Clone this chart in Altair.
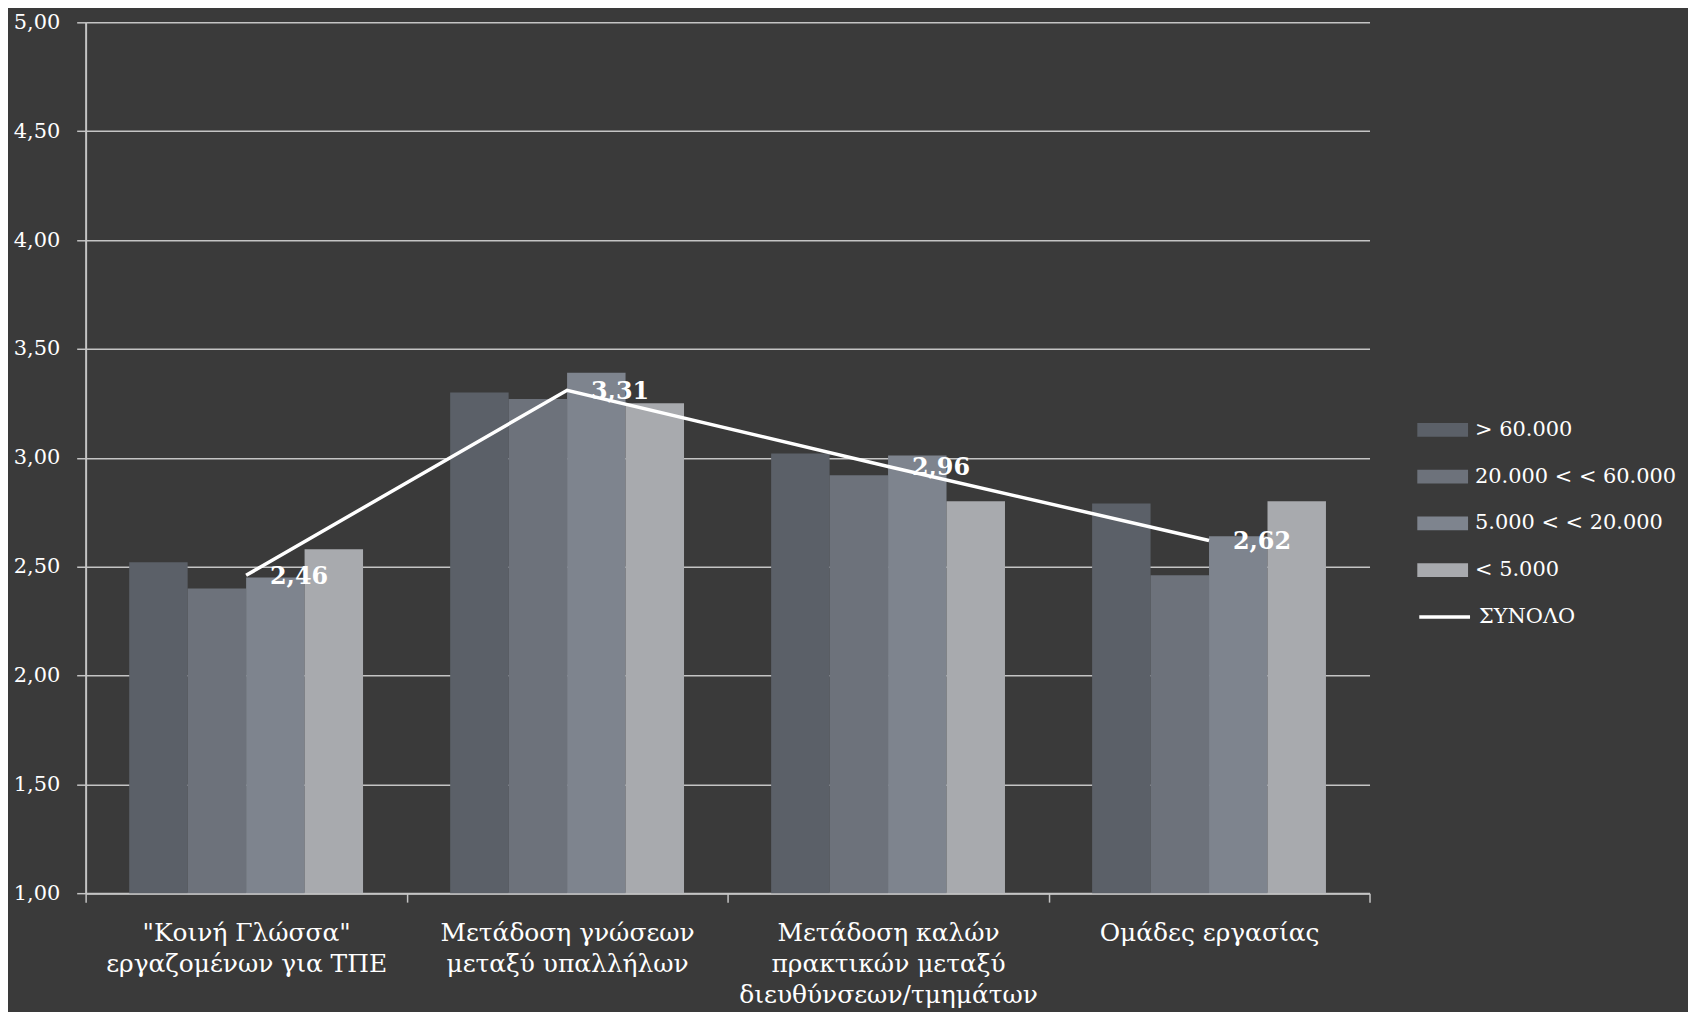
import altair as alt
import pandas as pd

categories = [
    '"Κοινή Γλώσσα"\nεργαζομένων για ΤΠΕ',
    'Μετάδοση γνώσεων\nμεταξύ υπαλλήλων',
    'Μετάδοση καλών\nπρακτικών μεταξύ\nδιευθύνσεων/τμημάτων',
    'Ομάδες εργασίας',
]
series = ['> 60.000', '20.000 < < 60.000', '5.000 < < 20.000', '< 5.000']
s_gt60 = [2.52, 3.30, 3.02, 2.79]
s_20_60 = [2.40, 3.27, 2.92, 2.46]
s_5_20 = [2.45, 3.39, 3.01, 2.64]
s_lt5 = [2.58, 3.25, 2.80, 2.80]
total_name = 'ΣΥΝΟΛΟ'
total = [2.46, 3.31, 2.96, 2.62]
y_ticks = [1.0, 1.5, 2.0, 2.5, 3.0, 3.5, 4.0, 4.5, 5.0]

bar_colors = ['#5b6068', '#6d727b', '#7e848e', '#a8aaae']
FONT = 'DejaVu Serif'
BG = '#3a3a3a'
GRID = '#c4c4c4'

rows = []
for s, vals in zip(series, [s_gt60, s_20_60, s_5_20, s_lt5]):
    for c, v in zip(categories, vals):
        rows.append({'cat': c, 'series': s, 'value': v})
bars_df = pd.DataFrame(rows)
line_df = pd.DataFrame({'cat': categories, 'value': total, 'name': [total_name] * 4})

x_enc = alt.X(
    'cat:N', sort=categories, title=None,
    scale=alt.Scale(paddingInner=0, paddingOuter=0),
    axis=alt.Axis(
        labelAngle=0, tickBand='extent', labelExpr="split(datum.label, '\\n')",
        labelFont=FONT, labelFontSize=25, labelColor='#ffffff', labelLineHeight=31,
        labelPadding=19, labelBaseline='top', tickSize=9, tickColor=GRID, tickWidth=1.5,
        domainColor=GRID, domainWidth=2, grid=False, labelLimit=400,
    ),
)
y_scale = alt.Scale(domain=[1, 5], zero=False, nice=False)
y_axis = alt.Axis(
    values=y_ticks, labelExpr="replace(format(datum.value, '.2f'), '.', ',')",
    labelFont=FONT, labelFontSize=21, labelColor='#ffffff', labelPadding=17,
    tickSize=9, tickColor=GRID, tickWidth=1.5, domainColor=GRID, domainWidth=2,
    grid=True, gridColor=GRID, gridWidth=1.5, title=None,
)

bars = alt.Chart(bars_df).mark_bar().encode(
    x=x_enc,
    xOffset=alt.XOffset('series:N', sort=series,
                        scale=alt.Scale(paddingInner=0, paddingOuter=0.745)),
    y=alt.Y('value:Q', scale=y_scale, axis=y_axis),
    y2=alt.datum(1.0),
    fill=alt.Fill(
        'series:N', sort=series,
        scale=alt.Scale(domain=series, range=bar_colors),
        legend=alt.Legend(
            orient='none', legendX=1338, legendY=384, title=None,
            symbolType='M-1,-0.27H1V0.27H-1Z', symbolSize=2601, symbolStrokeWidth=0,
            labelFont=FONT, labelFontSize=21, labelColor='#ffffff', labelOffset=7,
            rowPadding=11, padding=0, labelLimit=300,
        ),
    ),
)

line = alt.Chart(line_df).mark_line(strokeWidth=3.5).encode(
    x=alt.X('cat:N', sort=categories),
    y=alt.Y('value:Q', scale=y_scale),
    stroke=alt.Stroke(
        'name:N', scale=alt.Scale(domain=[total_name], range=['#ffffff']),
        legend=alt.Legend(
            orient='none', legendX=1338, legendY=570, title=None,
            symbolType='stroke', symbolSize=2601, symbolStrokeWidth=3.5,
            labelFont=FONT, labelFontSize=21, labelColor='#ffffff', labelOffset=7,
            padding=0,
        ),
    ),
)

labels = alt.Chart(line_df).transform_calculate(
    lbl="replace(format(datum.value, '.2f'), '.', ',')"
).mark_text(
    align='left', baseline='middle', dx=24, dy=2, font=FONT, fontSize=24,
    fontWeight='bold', color='#ffffff',
).encode(
    x=alt.X('cat:N', sort=categories),
    y=alt.Y('value:Q', scale=y_scale),
    text='lbl:N',
)

chart = alt.layer(bars, line, labels).resolve_legend(fill='independent', stroke='independent').properties(
    width=1290, height=875,
    autosize=alt.AutoSizeParams(type='none'),
    padding={'left': 78, 'top': 12, 'right': 320, 'bottom': 117},
    background=BG,
).configure_view(stroke=None)

chart.save('out.html', embed_options={'renderer': 'svg', 'actions': False})
